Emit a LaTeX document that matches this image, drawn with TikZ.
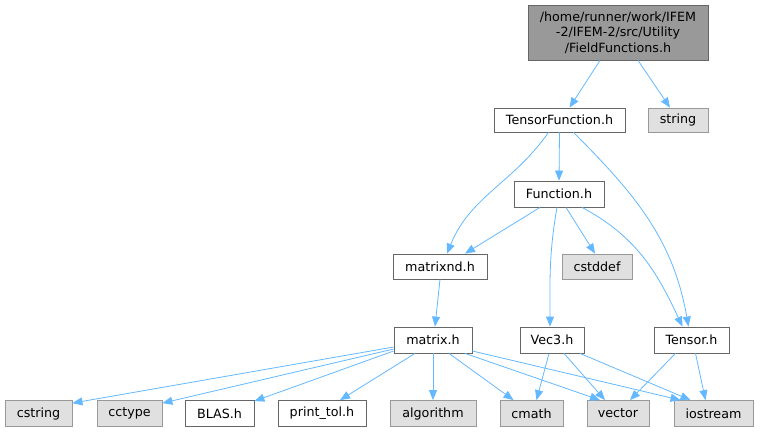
\documentclass[tikz,border=0pt]{standalone}
\usepackage{fontspec}
\setmainfont{DejaVu Sans}
\usetikzlibrary{arrows.meta,calc,positioning}
\definecolor{edgeblue}{HTML}{63B8FF}
\definecolor{grey40}{HTML}{666666}
\definecolor{grey60}{HTML}{999999}
\definecolor{grey88}{HTML}{E0E0E0}
\tikzset{
  hfile/.style = {draw=grey40, fill=white, thick, minimum height=25pt,
                  inner sep=0pt, font=\fontsize{12.7}{15.5}\selectfont},
  sysfile/.style = {hfile, draw=grey60, fill=grey88},
  topfile/.style = {hfile, fill=grey60, align=center},
  dep/.style = {draw=edgeblue, line width=0.8pt,
                -{Triangle[length=10pt,width=8pt]}}
}

\begin{document}
\begin{tikzpicture}[x=1pt,y=-1pt]

                % Fix the page.
                \useasboundingbox (0,0) rectangle (760,432);

                % Top file.
                \node[topfile, minimum width=180pt, minimum height=55pt] (top) at (618,32.5)
                    {/home/runner/work/IFEM\\-2/IFEM-2/src/Utility\\/FieldFunctions.h};

                % Second and third rows.
                \node[hfile, minimum width=131pt, minimum height=24pt] (tfun) at (559.5,120) {TensorFunction.h};
                \node[sysfile, minimum width=60pt, minimum height=24pt] (str) at (678,120) {string};
                \node[hfile, minimum width=90pt, minimum height=26pt] (fun) at (559,194) {Function.h};
                \node[hfile, minimum width=94pt] (mnd) at (440,266.5) {matrixnd.h};
                \node[sysfile, minimum width=70pt] (cdef) at (597,266.5) {cstddef};

                % Fourth row.
                \node[hfile, minimum width=78pt, minimum height=26pt] (mat) at (433,340) {matrix.h};
                \node[hfile, minimum width=64pt, minimum height=26pt] (v3) at (552,340) {Vec3.h};
                \node[hfile, minimum width=75pt, minimum height=26pt] (ten) at (691.5,340) {Tensor.h};

                % Bottom row.
                \node[sysfile, minimum width=67pt, minimum height=26pt] (cstr) at (38.5,413.5) {cstring};
                \node[sysfile, minimum width=65pt, minimum height=26pt] (cct) at (129.5,413.5) {cctype};
                \node[hfile, minimum width=69pt, minimum height=26pt] (blas) at (219.5,413.5) {BLAS.h};
                \node[hfile, minimum width=88pt, minimum height=26pt] (ptol) at (322,413.5) {print\_tol.h};
                \node[sysfile, minimum width=86pt, minimum height=26pt] (alg) at (433,413.5) {algorithm};
                \node[sysfile, minimum width=63pt, minimum height=26pt] (cmath) at (531.5,413.5) {cmath};
                \node[sysfile, minimum width=62pt, minimum height=26pt] (vec) at (618,413.5) {vector};
                \node[sysfile, minimum width=79pt, minimum height=26pt] (ios) at (713.5,413.5) {iostream};

                % Edges from the top.
                \draw[dep] ([xshift=-18pt]top.south) -- ([xshift=10pt]tfun.north);
                \draw[dep] ([xshift=20pt]top.south) -- ([xshift=-8pt]str.north);

                % Edges from TensorFunction.h.
                \draw[dep] (tfun.south) -- (fun.north);
                \draw[dep] ([xshift=-11pt]tfun.south) to[out=-125,in=68] ([xshift=7pt]mnd.north);
                \draw[dep] ([xshift=14pt]tfun.south) to[out=-45,in=100] ([xshift=-3pt]ten.north);

                % Edges from Function.h.
                \draw[dep] ([xshift=-19pt]fun.south) -- ([xshift=25pt]mnd.north);
                \draw[dep] ([xshift=7pt]fun.south) -- ([xshift=-2pt]cdef.north);
                \draw[dep] ([xshift=-2pt]fun.south) to[out=-100,in=90] ([xshift=-2pt]v3.north);
                \draw[dep] ([xshift=23pt]fun.south) to[out=-28,in=115] ([xshift=-9pt]ten.north);

                % matrixnd.h to matrix.h.
                \draw[dep] (mnd.south) -- ([xshift=2pt]mat.north);

                % Edges from matrix.h.
                \draw[dep] ([yshift=-7pt]mat.west) -- ([yshift=-3pt]cstr.north east);
                \draw[dep] ([yshift=-9pt]mat.west) -- ([yshift=-3pt]cct.north east);
                \draw[dep] ([yshift=-11pt]mat.west) -- ([yshift=-1pt]blas.north east);
                \draw[dep] ([xshift=-18pt]mat.south) -- ([xshift=18pt]ptol.north);
                \draw[dep] (mat.south) -- (alg.north);
                \draw[dep] ([xshift=16pt]mat.south) -- ([xshift=-18pt]cmath.north);
                \draw[dep] ([xshift=32pt]mat.south) -- ([xshift=-18pt]vec.north);
                \draw[dep] ([yshift=-11pt]mat.east) -- ([xshift=-33pt]ios.north);

                % Edges from Vec3.h and Tensor.h.
                \draw[dep] ([xshift=-3pt]v3.south) -- ([xshift=5pt]cmath.north);
                \draw[dep] ([xshift=12pt]v3.south) -- ([xshift=-13pt]vec.north);
                \draw[dep] ([xshift=28pt]v3.south) -- ([xshift=-23pt]ios.north);
                \draw[dep] ([xshift=-16pt]ten.south) -- ([xshift=12pt]vec.north);
                \draw[dep] ([xshift=4pt]ten.south) -- ([xshift=-8pt]ios.north);
\end{tikzpicture}
\end{document}
